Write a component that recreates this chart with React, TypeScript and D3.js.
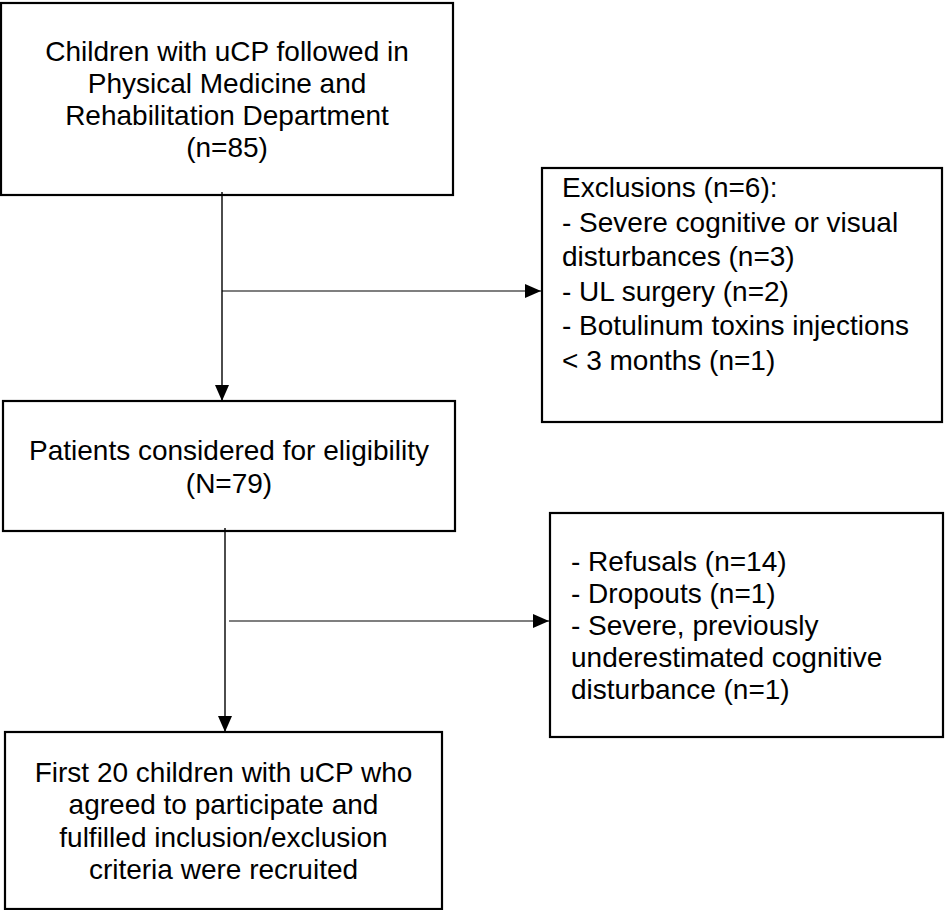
import React, { useEffect, useRef } from 'react';
import * as d3 from 'd3';

// box texts, top to bottom in the main column
const mainSteps: string[][] = [
  ['Children with uCP followed in', 'Physical Medicine and', 'Rehabilitation Department', '(n=85)'],
  ['Patients considered for eligibility', '(N=79)'],
  ['First 20 children with uCP who', 'agreed to participate and', 'fulfilled inclusion/exclusion', 'criteria were recruited'],
];

// side boxes (exits)
const sideSteps: string[][] = [
  [
    'Exclusions (n=6):',
    '- Severe cognitive or visual',
    'disturbances (n=3)',
    '- UL surgery (n=2)',
    '- Botulinum toxins injections',
    '< 3 months (n=1)',
  ],
  ['- Refusals (n=14)', '- Dropouts (n=1)', '- Severe, previously', 'underestimated cognitive', 'disturbance (n=1)'],
];

const W = 945;
const H = 910;

// layout in page pixels
const mainBoxes = [
  { x0: 1, x1: 453, y0: 3, y1: 195, first: 61, lh: 32, fs: 28 },
  { x0: 3, x1: 455, y0: 401, y1: 531, first: 460, lh: 33, fs: 28 },
  { x0: 5, x1: 442, y0: 732, y1: 909, first: 782, lh: 32.3, fs: 28 },
];
const sideBoxes = [
  { x0: 542, x1: 942, y0: 168, y1: 422, first: 197, lh: 34.6, fs: 28, pad: 20 },
  { x0: 550, x1: 943, y0: 513, y1: 737, first: 571, lh: 32, fs: 28, pad: 21 },
];
const links = [
  { x: 222, branchY: 291, branchX0: 222 },
  { x: 225, branchY: 621, branchX0: 229 },
];

const FONT = '"Liberation Sans", Arial, Helvetica, sans-serif';

const Flow: React.FC = () => {
  const svgRef = useRef<SVGSVGElement | null>(null);

  useEffect(() => {
    if (!svgRef.current) return;
    const svg = d3.select(svgRef.current);
    svg.selectAll('*').remove();

    const defs = svg.append('defs');
    defs
      .append('marker')
      .attr('id', 'arrow')
      .attr('viewBox', '0 0 16 14')
      .attr('refX', 16)
      .attr('refY', 7)
      .attr('markerWidth', 16)
      .attr('markerHeight', 14)
      .attr('markerUnits', 'userSpaceOnUse')
      .attr('orient', 'auto')
      .append('path')
      .attr('d', 'M0,0L16,7L0,14Z')
      .attr('fill', '#000');

    const line = d3.line<[number, number]>();

    // connectors
    links.forEach((l, i) => {
      const from = mainBoxes[i];
      const to = mainBoxes[i + 1];
      const side = sideBoxes[i];
      svg
        .append('path')
        .attr('d', line([[l.x, from.y1 - 3], [l.x, to.y0]]))
        .attr('stroke', '#000')
        .attr('stroke-width', 1.4)
        .attr('fill', 'none')
        .attr('marker-end', 'url(#arrow)');
      svg
        .append('path')
        .attr('d', line([[l.branchX0, l.branchY], [side.x0 - 1, l.branchY]]))
        .attr('stroke', '#000')
        .attr('stroke-width', 1.2)
        .attr('fill', 'none')
        .attr('marker-end', 'url(#arrow)');
    });

    const drawBox = (b: { x0: number; x1: number; y0: number; y1: number }) =>
      svg
        .append('rect')
        .attr('x', b.x0)
        .attr('y', b.y0)
        .attr('width', b.x1 - b.x0)
        .attr('height', b.y1 - b.y0)
        .attr('fill', 'none')
        .attr('stroke', '#000')
        .attr('stroke-width', 2.2);

    mainBoxes.forEach((b, i) => {
      drawBox(b);
      svg
        .append('g')
        .selectAll('text')
        .data(mainSteps[i])
        .enter()
        .append('text')
        .attr('x', (b.x0 + b.x1) / 2)
        .attr('y', (_, j) => b.first + j * b.lh)
        .attr('text-anchor', 'middle')
        .attr('font-family', FONT)
        .attr('font-size', b.fs)
        .attr('fill', '#000')
        .text((d) => d);
    });

    sideBoxes.forEach((b, i) => {
      drawBox(b);
      svg
        .append('g')
        .selectAll('text')
        .data(sideSteps[i])
        .enter()
        .append('text')
        .attr('x', b.x0 + b.pad)
        .attr('y', (_, j) => b.first + j * b.lh)
        .attr('font-family', FONT)
        .attr('font-size', b.fs)
        .attr('fill', '#000')
        .text((d) => d);
    });
  }, []);

  return (
    <svg
      ref={svgRef}
      width={W}
      height={H}
      style={{ position: 'absolute', left: 0, top: 0, background: '#fff' }}
    />
  );
};

export default function App() {
  return <Flow />;
}
